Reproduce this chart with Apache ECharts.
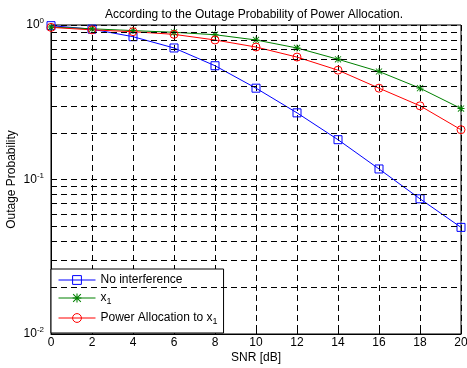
<!DOCTYPE html>
<html>
<head>
<meta charset="utf-8">
<script src="https://cdn.jsdelivr.net/npm/echarts@6/dist/echarts.min.js"></script>
<style>
  html, body { margin: 0; padding: 0; background: #fff; }
  #main { width: 467px; height: 368px; }
</style>
</head>
<body>
<div id="main"></div>
<script>
// SNR points (dB)
var snr = [0, 2, 4, 6, 8, 10, 12, 14, 16, 18, 20];
// outage probability
var noInterference = [0.99, 0.94, 0.84, 0.71, 0.545, 0.39, 0.27, 0.181, 0.117, 0.075, 0.049];
var x1 = [0.97, 0.945, 0.92, 0.897, 0.865, 0.80, 0.71, 0.60, 0.50, 0.39, 0.288];
var powerAlloc = [0.965, 0.93, 0.905, 0.87, 0.80, 0.72, 0.62, 0.51, 0.39, 0.30, 0.21];
// log grid minor lines (MATLAB style 2..9 per decade)
var minorGrid = [0.02, 0.03, 0.04, 0.05, 0.06, 0.07, 0.08, 0.09, 0.2, 0.3, 0.4, 0.5, 0.6, 0.7, 0.8, 0.9];

var font = 'Liberation Sans, Arial, sans-serif';
var dash = [6, 4];

function pairs(ys) {
  return snr.map(function (x, i) { return [x, ys[i]]; });
}

// asterisk marker like matlab '*'
var star = 'path://M4.4,0H5.6V10H4.4Z M0,4.4H10V5.6H0Z M1,0.2L9.8,9L9,9.8L0.2,1Z M9,0.2L9.8,1L1,9.8L0.2,9Z';

var chart = echarts.init(document.getElementById('main'));
chart.setOption({
  animation: false,
  backgroundColor: '#fff',
  textStyle: { fontFamily: font },
  title: {
    text: 'According to the Outage Probability of Power Allocation.',
    left: 249, top: 4, textAlign: 'center',
    textStyle: { fontSize: 12, fontWeight: 'normal', color: '#000', fontFamily: font }
  },
  grid: {
    left: 51, right: 6, top: 25, bottom: 34,
    outerBoundsMode: 'none', containLabel: false,
    show: true, borderColor: '#000', borderWidth: 1
  },
  legend: {
    data: ['No interference', 'x_1', 'Power Allocation to x_1'],
    orient: 'vertical',
    left: 51, top: 269,
    padding: [5, 6, 7, 7],
    itemGap: 6,
    itemWidth: 37, itemHeight: 11,
    backgroundColor: '#fff',
    borderColor: '#000', borderWidth: 1, borderRadius: 0,
    lineStyle: { width: 1 },
    itemStyle: { borderWidth: 1 },
    formatter: function (name) {
      return '{t|' + name.replace('_1', '}{s|1}') + (name.indexOf('_1') >= 0 ? '' : '}');
    },
    textStyle: {
      color: '#000', fontSize: 12, fontFamily: font,
      rich: {
        t: { fontSize: 12, color: '#000', fontFamily: font },
        s: { fontSize: 9, color: '#000', fontFamily: font, padding: [7, 0, 0, 0] }
      }
    }
  },
  xAxis: {
    type: 'value', min: 0, max: 20, interval: 2,
    name: 'SNR [dB]', nameLocation: 'middle', nameGap: 18, nameMoveOverlap: false,
    nameTextStyle: { fontSize: 12, color: '#000', fontFamily: font },
    axisLine: { lineStyle: { color: '#000', width: 1 } },
    axisTick: { inside: true, length: 4, lineStyle: { color: '#000' } },
    axisLabel: { color: '#000', fontSize: 12, margin: 3, fontFamily: font },
    splitLine: { show: true, lineStyle: { color: '#000', type: dash, width: 1 } }
  },
  yAxis: {
    type: 'log', logBase: 10, min: 0.01, max: 1,
    name: 'Outage Probability', nameLocation: 'middle', nameGap: 33, nameMoveOverlap: false,
    nameTextStyle: { fontSize: 12, color: '#000', fontFamily: font },
    axisLine: { lineStyle: { color: '#000', width: 1 } },
    axisTick: { inside: true, length: 4, lineStyle: { color: '#000' } },
    axisLabel: {
      margin: 7,
      formatter: function (v) {
        return '{b|10}{e|' + Math.round(Math.log10(v)) + '}';
      },
      rich: {
        b: { fontSize: 12, color: '#000', fontFamily: font },
        e: { fontSize: 8, color: '#000', fontFamily: font, padding: [0, 0, 8, 0] }
      }
    },
    splitLine: { show: true, lineStyle: { color: '#000', type: dash, width: 1 } }
  },
  series: [
    {
      name: 'grid', type: 'line', data: pairs(noInterference), z: 0,
      showSymbol: false, lineStyle: { opacity: 0 }, silent: true,
      markLine: {
        silent: true, symbol: 'none', animation: false,
        label: { show: false },
        lineStyle: { color: '#000', type: dash, width: 1 },
        data: minorGrid.map(function (v) { return { yAxis: v }; })
      }
    },
    {
      name: 'No interference', type: 'line', data: pairs(noInterference), z: 3,
      symbol: 'rect', symbolSize: 8,
      lineStyle: { color: '#0000ff', width: 1 },
      itemStyle: { color: 'rgba(0,0,0,0)', borderColor: '#0000ff', borderWidth: 1 }
    },
    {
      name: 'x_1', type: 'line', data: pairs(x1), z: 3,
      symbol: star, symbolSize: 7,
      lineStyle: { color: '#008000', width: 1 },
      itemStyle: { color: '#008000' }
    },
    {
      name: 'Power Allocation to x_1', type: 'line', data: pairs(powerAlloc), z: 3,
      symbol: 'circle', symbolSize: 8,
      lineStyle: { color: '#ff0000', width: 1 },
      itemStyle: { color: 'rgba(0,0,0,0)', borderColor: '#ff0000', borderWidth: 1 }
    }
  ]
});
</script>
</body>
</html>
